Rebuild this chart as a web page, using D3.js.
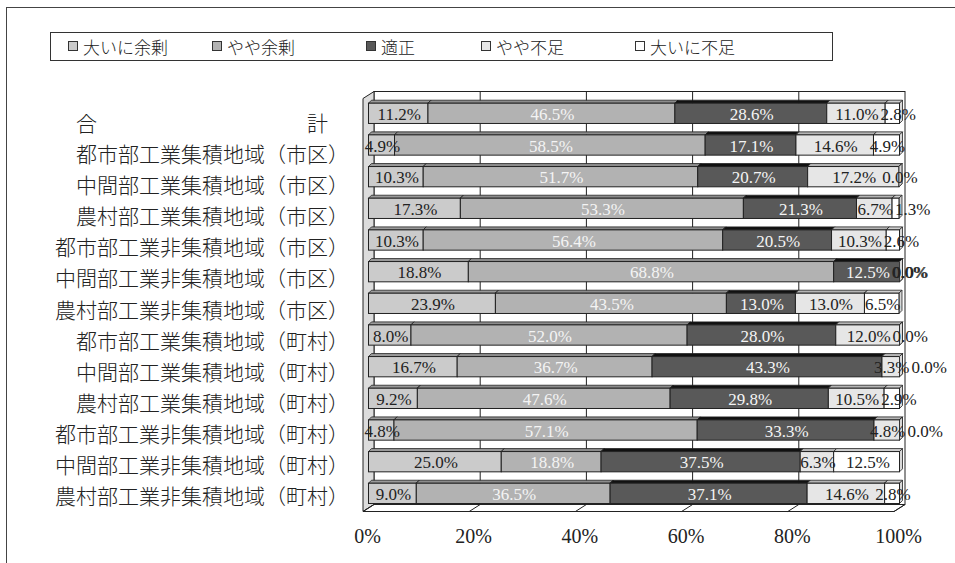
<!DOCTYPE html>
<html lang="ja">
<head>
<meta charset="UTF-8">
<script src="https://d3js.org/d3.v7.min.js"></script>
<style>
  body { margin: 0; background: #fff; }
  svg { display: block; }
</style>
</head>
<body>
<div id="chart"></div>
<script>
// data
const categories = [
  "合　　　　　　　　　　計　",
  "都市部工業集積地域（市区）",
  "中間部工業集積地域（市区）",
  "農村部工業集積地域（市区）",
  "都市部工業非集積地域（市区）",
  "中間部工業非集積地域（市区）",
  "農村部工業非集積地域（市区）",
  "都市部工業集積地域（町村）",
  "中間部工業集積地域（町村）",
  "農村部工業集積地域（町村）",
  "都市部工業非集積地域（町村）",
  "中間部工業非集積地域（町村）",
  "農村部工業非集積地域（町村）"
];
const seriesNames = ["大いに余剰", "やや余剰", "適正", "やや不足", "大いに不足"];
const taiiniYojo = [11.2, 4.9, 10.3, 17.3, 10.3, 18.8, 23.9, 8.0, 16.7, 9.2, 4.8, 25.0, 9.0];
const yayaYojo   = [46.5, 58.5, 51.7, 53.3, 56.4, 68.8, 43.5, 52.0, 36.7, 47.6, 57.1, 18.8, 36.5];
const tekisei    = [28.6, 17.1, 20.7, 21.3, 20.5, 12.5, 13.0, 28.0, 43.3, 29.8, 33.3, 37.5, 37.1];
const yayaFusoku = [11.0, 14.6, 17.2, 6.7, 10.3, 0.0, 13.0, 12.0, 3.3, 10.5, 4.8, 6.3, 14.6];
const taiiniFusoku = [2.8, 4.9, 0.0, 1.3, 2.6, 0.0, 6.5, 0.0, 0.0, 2.9, 0.0, 12.5, 2.8];
const xTicks = [0, 20, 40, 60, 80, 100];

const series = [taiiniYojo, yayaYojo, tekisei, yayaFusoku, taiiniFusoku];

// look
const frontColor = ["#cbcbcb", "#b2b2b2", "#595959", "#e6e6e6", "#ffffff"];
const topColor   = ["#9a9a9a", "#8c8c8c", "#111111", "#b5b5b5", "#cfcfcf"];
const sideColor  = ["#a6a6a6", "#959595", "#2e2e2e", "#c0c0c0", "#d8d8d8"];
const labelColor = ["#222", "#f4f4f4", "#f4f4f4", "#222", "#222"];
const serif = "'Liberation Serif', 'Times New Roman', serif";
const jp = "'Noto Sans CJK JP', sans-serif";

const W = 955, H = 563;
const svg = d3.select("#chart").append("svg")
  .attr("width", W).attr("height", H);

// outer frame (runs off the picture on the right and bottom)
svg.append("rect")
  .attr("x", 6.5).attr("y", 7.5)
  .attr("width", 1000).attr("height", 600)
  .attr("fill", "none").attr("stroke", "#444");

// 3D frame geometry
const dx = 11, dy = -7;        // wall depth
const bdx = 3, bdy = -3;       // bar depth
const xFront = d3.scaleLinear().domain([0, 100]).range([363, 894]);
const xBar = d3.scaleLinear().domain([0, 100]).range([368.5, 899.5]);
const y = d3.scaleBand().domain(categories).range([97.5, 509.2])
  .paddingInner(0.36).paddingOuter(0.18);
const yLabel = d3.scalePoint().domain(categories).range([122, 495]);

const floorY = 511.5, topY = 98.5;
const wall = svg.append("g");

// back wall
wall.append("rect")
  .attr("x", xFront(0) + dx).attr("y", topY + dy)
  .attr("width", xFront(100) - xFront(0)).attr("height", floorY - topY)
  .attr("fill", "#fff").attr("stroke", "#222");
// side wall
wall.append("path")
  .attr("d", d3.line()([[xFront(0), topY], [xFront(0) + dx, topY + dy],
    [xFront(0) + dx, floorY + dy], [xFront(0), floorY]]) + "Z")
  .attr("fill", "#dcdcdc").attr("stroke", "#222");
// floor
wall.append("path")
  .attr("d", d3.line()([[xFront(0), floorY], [xFront(0) + dx, floorY + dy],
    [xFront(100) + dx, floorY + dy], [xFront(100), floorY]]) + "Z")
  .attr("fill", "#fff").attr("stroke", "#222");
// gridlines on back wall and ticks on floor
wall.selectAll(".grid").data(xTicks.slice(1, -1)).join("line")
  .attr("class", "grid")
  .attr("x1", d => xFront(d) + dx).attr("x2", d => xFront(d) + dx)
  .attr("y1", topY + dy).attr("y2", floorY + dy)
  .attr("stroke", "#222");
wall.selectAll(".ftick").data(xTicks).join("line")
  .attr("class", "ftick")
  .attr("x1", d => xFront(d)).attr("x2", d => xFront(d) + dx)
  .attr("y1", floorY).attr("y2", floorY + dy)
  .attr("stroke", "#222");

// bars
const rows = svg.append("g").selectAll("g").data(categories).join("g");
rows.each(function(cat, i) {
  const g = d3.select(this);
  let acc = 0;
  const segs = series.map((s, k) => {
    const seg = {k: k, x0: acc, x1: acc + s[i], v: s[i]};
    acc += s[i];
    return seg;
  });
  const y0 = y(cat), y1 = y(cat) + y.bandwidth();
  segs.forEach(s => {
    const a = xBar(s.x0), b = xBar(Math.min(s.x1, 100));
    // top face
    g.append("path")
      .attr("d", d3.line()([[a, y0], [a + bdx, y0 + bdy], [b + bdx, y0 + bdy], [b, y0]]) + "Z")
      .attr("fill", topColor[s.k]).attr("stroke", "#222").attr("stroke-width", 0.8);
    // end face
    g.append("path")
      .attr("d", d3.line()([[b, y0], [b + bdx, y0 + bdy], [b + bdx, y1 + bdy], [b, y1]]) + "Z")
      .attr("fill", sideColor[s.k]).attr("stroke", "#222").attr("stroke-width", 0.8);
    // front face
    g.append("rect")
      .attr("x", a).attr("y", y0)
      .attr("width", Math.max(0, b - a)).attr("height", y1 - y0)
      .attr("fill", frontColor[s.k]).attr("stroke", "#222").attr("stroke-width", 1);
  });
  const labels = g.selectAll("text").data(segs).join("text")
    .attr("x", s => xBar((s.x0 + s.x1) / 2) + 1)
    .attr("y", (y0 + y1) / 2 + 1)
    .attr("text-anchor", "middle")
    .attr("dominant-baseline", "central")
    .attr("font-family", serif).attr("font-size", 17)
    .attr("fill", s => labelColor[s.k])
    .text(s => s.v.toFixed(1) + "%");
  // push a label right when it would run into the one before it;
  // two empty segments in a row share one spot, as in the original
  let prevRight = -Infinity, prevX = 0, prevV = null;
  labels.each(function(s) {
    const t = d3.select(this);
    const w = this.getComputedTextLength();
    let cx = +t.attr("x");
    if (s.v === 0 && prevV === 0) {
      cx = prevX + 1;
    } else if (cx - w / 2 < prevRight + 2) {
      cx = prevRight + 2 + w / 2;
    }
    t.attr("x", cx);
    prevRight = cx + w / 2;
    prevX = cx;
    prevV = s.v;
  });
});

// category labels
svg.append("g").selectAll("text").data(categories).join("text")
  .attr("x", 349).attr("y", d => yLabel(d))
  .attr("text-anchor", "end").attr("dominant-baseline", "central")
  .attr("font-family", jp).attr("font-size", 21).attr("font-weight", 300)
  .attr("fill", "#222")
  .text(d => d);

// x axis labels
const xAxis = svg.append("g")
  .attr("transform", "translate(-1.5," + 529 + ")")
  .call(d3.axisBottom(xBar).tickValues(xTicks).tickSize(0).tickPadding(0)
    .tickFormat(d => d + "%"));
xAxis.select(".domain").remove();
xAxis.selectAll("text")
  .attr("font-family", serif).attr("font-size", 20).attr("fill", "#222");

// legend
const legend = svg.append("g");
legend.append("rect")
  .attr("x", 50.5).attr("y", 32.5).attr("width", 782).attr("height", 28)
  .attr("fill", "#fff").attr("stroke", "#333");
const legendX = [68, 212, 366, 481, 635];
const li = legend.selectAll("g").data(seriesNames).join("g")
  .attr("transform", (d, k) => "translate(" + legendX[k] + ",46)");
li.append("rect")
  .attr("x", 0.5).attr("y", -4.5).attr("width", 9).attr("height", 9)
  .attr("fill", (d, k) => frontColor[k]).attr("stroke", "#333");
li.append("text")
  .attr("x", 15).attr("y", 0)
  .attr("dominant-baseline", "central")
  .attr("font-family", jp).attr("font-size", 17).attr("font-weight", 300)
  .attr("fill", "#222")
  .text(d => d);
</script>
</body>
</html>
